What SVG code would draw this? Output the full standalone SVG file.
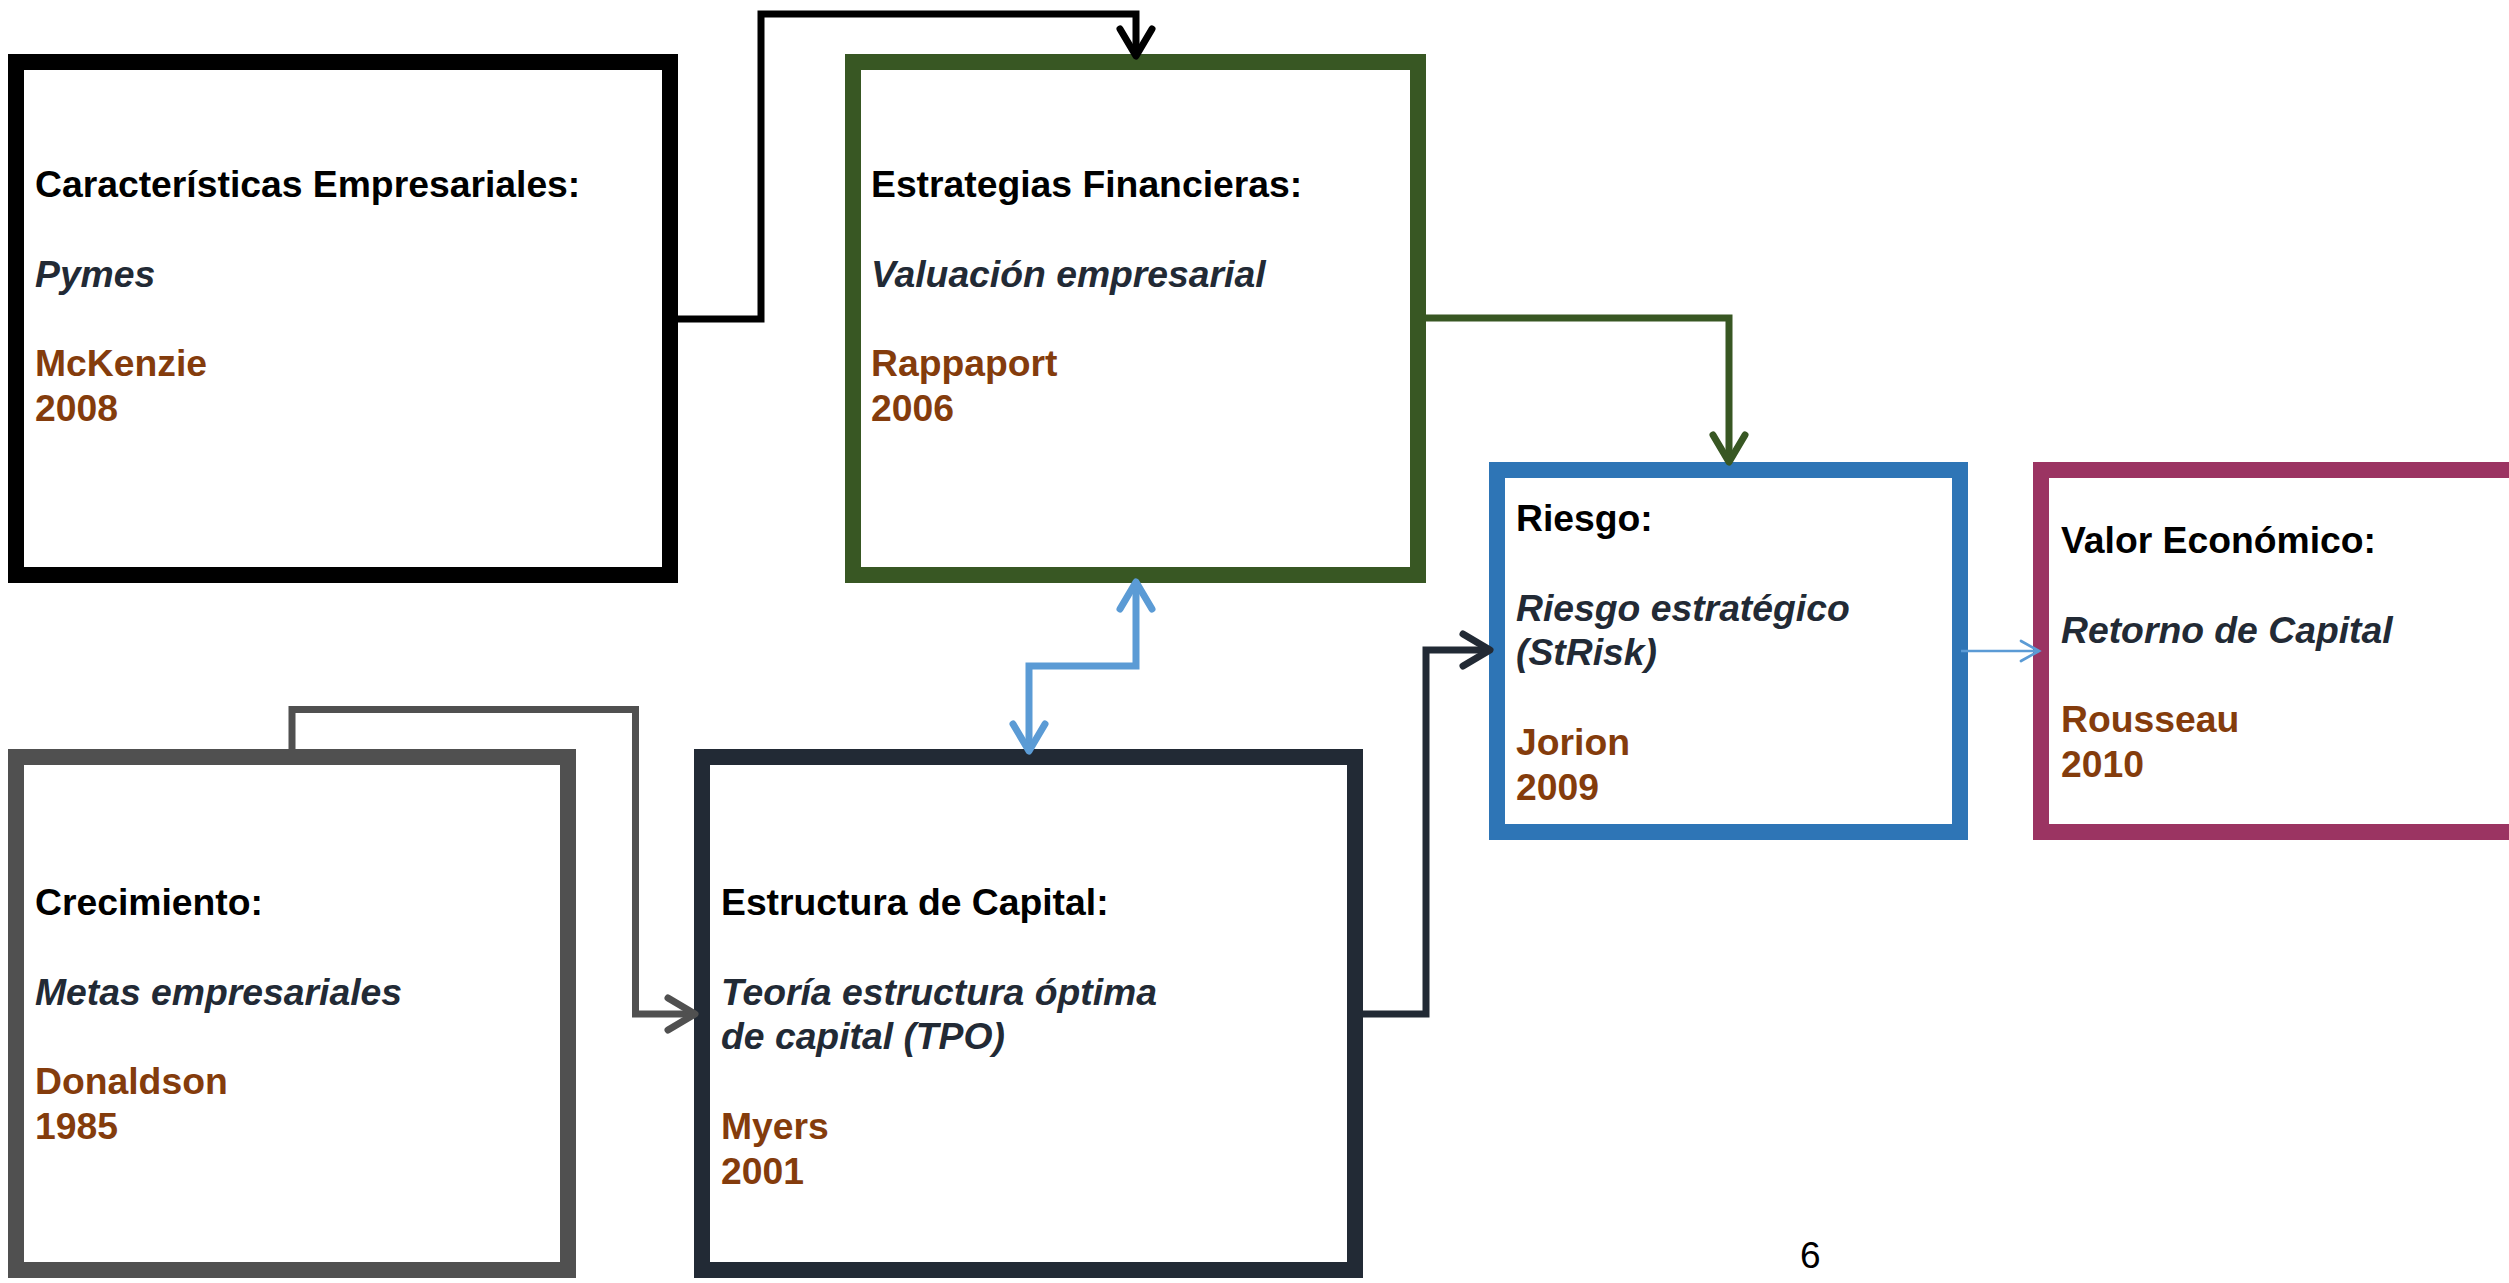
<svg xmlns="http://www.w3.org/2000/svg" width="2509" height="1283" viewBox="0 0 2509 1283">
<style>
.box{fill:#FFFFFF;stroke-width:16}
.t{font-family:"Liberation Sans",Arial,sans-serif;font-size:37.3px;font-weight:bold}
.h{fill:#000000}
.s{fill:#222A35;font-style:italic}
.a{fill:#843C0C}
.c{fill:none;stroke-width:7;stroke-linejoin:miter}
.pg{font-family:"Liberation Sans",Arial,sans-serif;font-size:37px;fill:#000000}
</style>
<defs>
<marker id="mBlack" markerUnits="userSpaceOnUse" viewBox="-40 -25 50 50" markerWidth="50" markerHeight="50" refX="0" refY="0" orient="auto"><path d="M -27 -16 L 0 0 L -27 16" fill="none" stroke="#000000" stroke-width="7" stroke-linejoin="round" stroke-linecap="round"/></marker>
<marker id="mGreen" markerUnits="userSpaceOnUse" viewBox="-40 -25 50 50" markerWidth="50" markerHeight="50" refX="0" refY="0" orient="auto"><path d="M -27 -16 L 0 0 L -27 16" fill="none" stroke="#385723" stroke-width="7" stroke-linejoin="round" stroke-linecap="round"/></marker>
<marker id="mGray" markerUnits="userSpaceOnUse" viewBox="-40 -25 50 50" markerWidth="50" markerHeight="50" refX="0" refY="0" orient="auto"><path d="M -27 -16 L 0 0 L -27 16" fill="none" stroke="#505050" stroke-width="7" stroke-linejoin="round" stroke-linecap="round"/></marker>
<marker id="mDark" markerUnits="userSpaceOnUse" viewBox="-40 -25 50 50" markerWidth="50" markerHeight="50" refX="0" refY="0" orient="auto"><path d="M -27 -16 L 0 0 L -27 16" fill="none" stroke="#222A35" stroke-width="7" stroke-linejoin="round" stroke-linecap="round"/></marker>
<marker id="mBlue" markerUnits="userSpaceOnUse" viewBox="-40 -25 50 50" markerWidth="50" markerHeight="50" refX="0" refY="0" orient="auto-start-reverse"><path d="M -27 -16 L 0 0 L -27 16" fill="none" stroke="#5B9BD5" stroke-width="7" stroke-linejoin="round" stroke-linecap="round"/></marker>
<marker id="mBlueThin" markerUnits="userSpaceOnUse" viewBox="-25 -15 30 30" markerWidth="30" markerHeight="30" refX="0" refY="0" orient="auto"><path d="M -18 -10 L 0 0 L -18 10" fill="none" stroke="#5B9BD5" stroke-width="2.7" stroke-linecap="round"/></marker>
</defs>
<rect x="0" y="0" width="2509" height="1283" fill="#FFFFFF"/>

<g id="node-caracteristicas">
<rect class="box" x="16" y="62" width="654" height="513" stroke="#000000"/>
<text class="t h" x="35" y="197">Características Empresariales:</text>
<text class="t s" x="35" y="286.6">Pymes</text>
<text class="t a" x="35" y="376">McKenzie</text>
<text class="t a" x="35" y="420.8">2008</text>
</g>

<g id="node-estrategias">
<rect class="box" x="853" y="62" width="565" height="513" stroke="#385723"/>
<text class="t h" x="871" y="197">Estrategias Financieras:</text>
<text class="t s" x="871" y="286.6">Valuación empresarial</text>
<text class="t a" x="871" y="376">Rappaport</text>
<text class="t a" x="871" y="420.8">2006</text>
</g>

<g id="node-riesgo">
<rect class="box" x="1497" y="470" width="463" height="362" stroke="#2E75B6"/>
<text class="t h" x="1516" y="531">Riesgo:</text>
<text class="t s" x="1516" y="620.6">Riesgo estratégico</text>
<text class="t s" x="1516" y="665.4">(StRisk)</text>
<text class="t a" x="1516" y="755">Jorion</text>
<text class="t a" x="1516" y="799.8">2009</text>
</g>

<g id="node-valor">
<rect class="box" x="2041" y="470" width="600" height="362" stroke="#9B3462"/>
<text class="t h" x="2061" y="553">Valor Económico:</text>
<text class="t s" x="2061" y="642.6">Retorno de Capital</text>
<text class="t a" x="2061" y="732.2">Rousseau</text>
<text class="t a" x="2061" y="777">2010</text>
</g>

<g id="node-crecimiento">
<rect class="box" x="16" y="757" width="552" height="513" stroke="#505050"/>
<text class="t h" x="35" y="915">Crecimiento:</text>
<text class="t s" x="35" y="1004.6">Metas empresariales</text>
<text class="t a" x="35" y="1094.2">Donaldson</text>
<text class="t a" x="35" y="1139">1985</text>
</g>

<g id="node-estructura">
<rect class="box" x="702" y="757" width="653" height="513" stroke="#222A35"/>
<text class="t h" x="721" y="915">Estructura de Capital:</text>
<text class="t s" x="721" y="1004.6">Teoría estructura óptima</text>
<text class="t s" x="721" y="1049.4">de capital (TPO)</text>
<text class="t a" x="721" y="1139">Myers</text>
<text class="t a" x="721" y="1183.8">2001</text>
</g>

<g id="connectors">
<path class="c" stroke="#000000" d="M 674 319 H 761 V 14 H 1136 V 56" marker-end="url(#mBlack)"/>
<path class="c" stroke="#385723" d="M 1422 318 H 1729 V 462" marker-end="url(#mGreen)"/>
<path class="c" stroke="#505050" d="M 292 753 V 709.5 H 635.5 V 1014 H 695" marker-end="url(#mGray)"/>
<path class="c" stroke="#5B9BD5" d="M 1136 582 V 666 H 1029 V 751" marker-start="url(#mBlue)" marker-end="url(#mBlue)"/>
<path class="c" stroke="#222A35" d="M 1359 1014 H 1426 V 650 H 1490" marker-end="url(#mDark)"/>
<path fill="none" stroke="#5B9BD5" stroke-width="2.7" d="M 1961 651 H 2039" marker-end="url(#mBlueThin)"/>
</g>

<text class="pg" x="1800" y="1268">6</text>
</svg>
